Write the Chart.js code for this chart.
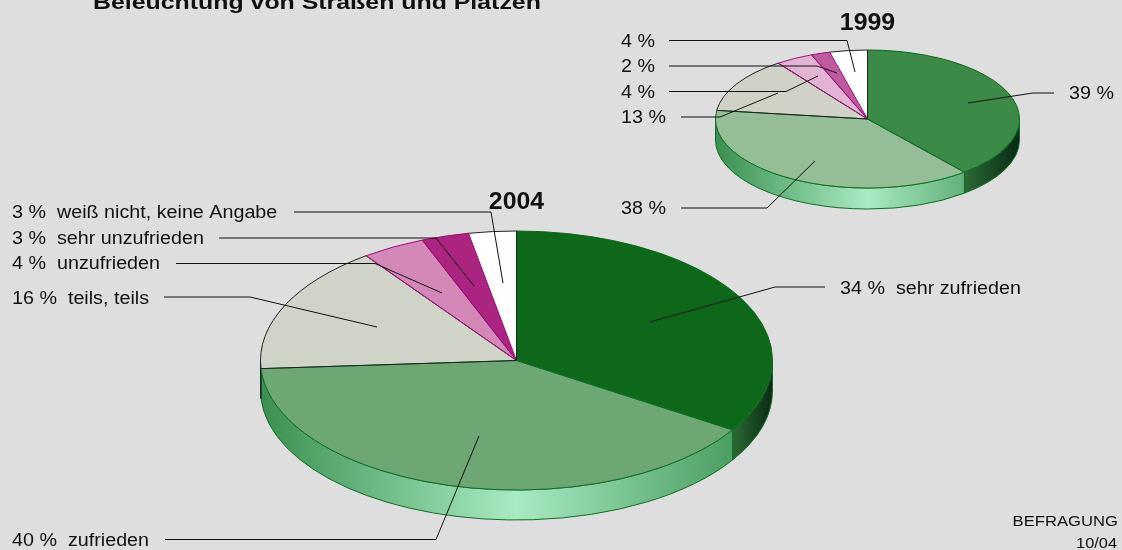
<!DOCTYPE html>
<html lang="de">
<head>
<meta charset="utf-8">
<style>
html,body{margin:0;padding:0;background:#dedede;width:1122px;height:550px;overflow:hidden}
canvas{position:absolute;left:0;top:0}
</style>
<script src="https://cdn.jsdelivr.net/npm/chart.js@4/dist/chart.umd.min.js"></script>
</head>
<body>
<canvas id="c2004" width="1122" height="550"></canvas>
<canvas id="c1999" width="1122" height="550"></canvas>
<script>
const categories = ['sehr zufrieden','zufrieden','teils, teils','unzufrieden','sehr unzufrieden','weiß nicht, keine Angabe'];
const values2004 = [34,40,16,4,3,3];
const values1999 = [39,38,13,4,2,4];
const title = 'Beleuchtung von Straßen und Plätzen';
const footer = ['BEFRAGUNG','10/04'];

const fills2004 = ['#0d6919','#6ca774','#d0d4c8','#d388b8','#aa2480','#ffffff'];
const fills1999 = ['#3b8a48','#94bd98','#d0d2c8','#e2b3d2','#c05aa0','#ffffff'];
const edges = ['#0b6a1c','#0f6e24','#222222','#a0107a','#960a70','#a0107a'];

const FONT = '"Liberation Sans", Arial, sans-serif';

const layout2004 = {
  year:'2004', yearX:516.5, yearY:208.5, cx:516.5, cy:360.5, rx:256, ry:129.5, depth:30,
  text:[
    [0,840,294],[1,12,546],[2,12,304],[3,12,269],[4,12,244],[5,12,218]
  ],
  leaders:[
    [[825,287],[775,287],[650,322]],
    [[165,539.5],[436,539.5],[479,436]],
    [[164,297],[250,297],[377,327]],
    [[176,263.5],[375,263.5],[442,293]],
    [[219,238],[436,238],[474,286]],
    [[294,212],[491,212],[503,283]]
  ],
  withNames:true
};
const layout1999 = {
  year:'1999', yearX:867.5, yearY:29.5, cx:867.5, cy:119, rx:152, ry:69, depth:21,
  text:[
    [0,1069,99],[1,621,214],[2,621,123],[3,621,98],[4,621,72],[5,621,47]
  ],
  leaders:[
    [[1054,93],[1033,93],[968,103]],
    [[681,208],[767,208],[815,161]],
    [[681,117],[720,117],[778,93]],
    [[669,91.5],[786,91.5],[818,76]],
    [[669,66],[817,66],[837,73]],
    [[669,40.5],[847,40.5],[855,72]]
  ],
  withNames:false
};

function sideGradient(ctx, L, i, x0, x1){
  if(i===0){
    const g = ctx.createLinearGradient(x0,0,x1,0);
    g.addColorStop(0,'#2b6a35'); g.addColorStop(1,'#0a2a14');
    return g;
  }
  if(i===1){
    const g = ctx.createLinearGradient(L.cx-L.rx,0,L.cx+L.rx,0);
    g.addColorStop(0,'#3a9050'); g.addColorStop(0.5,'#a9eac3'); g.addColorStop(1,'#3a9050');
    return g;
  }
  return '#555555';
}

function stretched(ctx, s, x, y, font, sx, align){
  ctx.save();
  ctx.font = font;
  ctx.textAlign = align || 'left';
  ctx.translate(x,y);
  ctx.scale(sx,1);
  ctx.fillText(s,0,0);
  ctx.restore();
}

function pie3d(L){
  return {
    id:'pie3d'+L.year,
    beforeDatasetsDraw(chart){
      const ctx = chart.ctx;
      const arcs = chart.getDatasetMeta(0).data;
      arcs.forEach((arc,i)=>{
        const p = arc.getProps(['startAngle','endAngle']);
        const a0 = Math.max(p.startAngle,0), a1 = Math.min(p.endAngle,Math.PI);
        if(a1<=a0) return;
        const x0 = L.cx+L.rx*Math.cos(a0), x1 = L.cx+L.rx*Math.cos(a1);
        ctx.save();
        ctx.beginPath();
        ctx.ellipse(L.cx,L.cy,L.rx,L.ry,0,a0,a1,false);
        ctx.ellipse(L.cx,L.cy+L.depth,L.rx,L.ry,0,a1,a0,true);
        ctx.closePath();
        ctx.fillStyle = sideGradient(ctx,L,i,Math.min(x0,x1),Math.max(x0,x1));
        ctx.fill();
        ctx.strokeStyle = i===2 ? '#222222' : '#0f6e24';
        ctx.lineWidth = 1;
        ctx.stroke();
        ctx.restore();
      });
      const a = arcs[0];
      ctx.save();
      ctx.translate(L.cx,L.cy);
      ctx.scale(1,L.ry/L.rx);
      ctx.translate(-a.x,-a.y);
    },
    afterDatasetsDraw(chart){
      const ctx = chart.ctx;
      const arcs = chart.getDatasetMeta(0).data;
      const m = ctx.getTransform();
      ctx.restore();
      arcs.forEach((arc,i)=>{
        const p = arc.getProps(['x','y','startAngle','endAngle','outerRadius']);
        const last = i===arcs.length-1;
        ctx.save();
        ctx.setTransform(m);
        ctx.beginPath();
        if(last){
          ctx.arc(p.x,p.y,p.outerRadius,p.startAngle,p.endAngle);
          ctx.lineTo(p.x,p.y);
        }else{
          ctx.moveTo(p.x,p.y);
          ctx.arc(p.x,p.y,p.outerRadius,p.startAngle,p.endAngle);
          ctx.closePath();
        }
        ctx.restore();
        ctx.save();
        ctx.strokeStyle = last ? '#222222' : edges[i];
        ctx.lineWidth = 1;
        ctx.stroke();
        ctx.restore();
      });
    },
    afterDraw(chart){
      const ctx = chart.ctx;
      const vals = chart.data.datasets[0].data;
      ctx.save();
      ctx.strokeStyle='#111111';
      ctx.lineWidth=1;
      L.leaders.forEach(pts=>{
        ctx.beginPath();
        pts.forEach((q,j)=> j?ctx.lineTo(q[0],q[1]):ctx.moveTo(q[0],q[1]));
        ctx.stroke();
      });
      ctx.fillStyle='#111111';
      ctx.textBaseline='alphabetic';
      L.text.forEach(t=>{
        const s = vals[t[0]]+' %'+(L.withNames?'  '+chart.data.labels[t[0]]:'');
        stretched(ctx,s,t[1],t[2],'17.5px '+FONT,1.127);
      });
      stretched(ctx,L.year,L.yearX,L.yearY,'bold 23px '+FONT,1.08,'center');
      if(L.withNames){
        stretched(ctx,title,93,9,'bold 20px '+FONT,1.244);
        stretched(ctx,footer[0],1118,525.5,'15px '+FONT,1.11,'right');
        stretched(ctx,footer[1],1117,548,'15px '+FONT,1.09,'right');
      }
      ctx.restore();
    }
  };
}

function makeChart(id, values, fills, L){
  return new Chart(document.getElementById(id),{
    type:'pie',
    data:{labels:categories,datasets:[{
      data:values,
      backgroundColor:fills,
      borderColor:edges,
      borderWidth:0,
      clip:false
    }]},
    options:{
      responsive:false,
      animation:false,
      radius:L.rx,
      layout:{padding:0},
      events:[],
      plugins:{legend:{display:false},tooltip:{enabled:false},title:{display:false}}
    },
    plugins:[pie3d(L)]
  });
}
makeChart('c2004',values2004,fills2004,layout2004);
makeChart('c1999',values1999,fills1999,layout1999);
</script>
</body>
</html>
